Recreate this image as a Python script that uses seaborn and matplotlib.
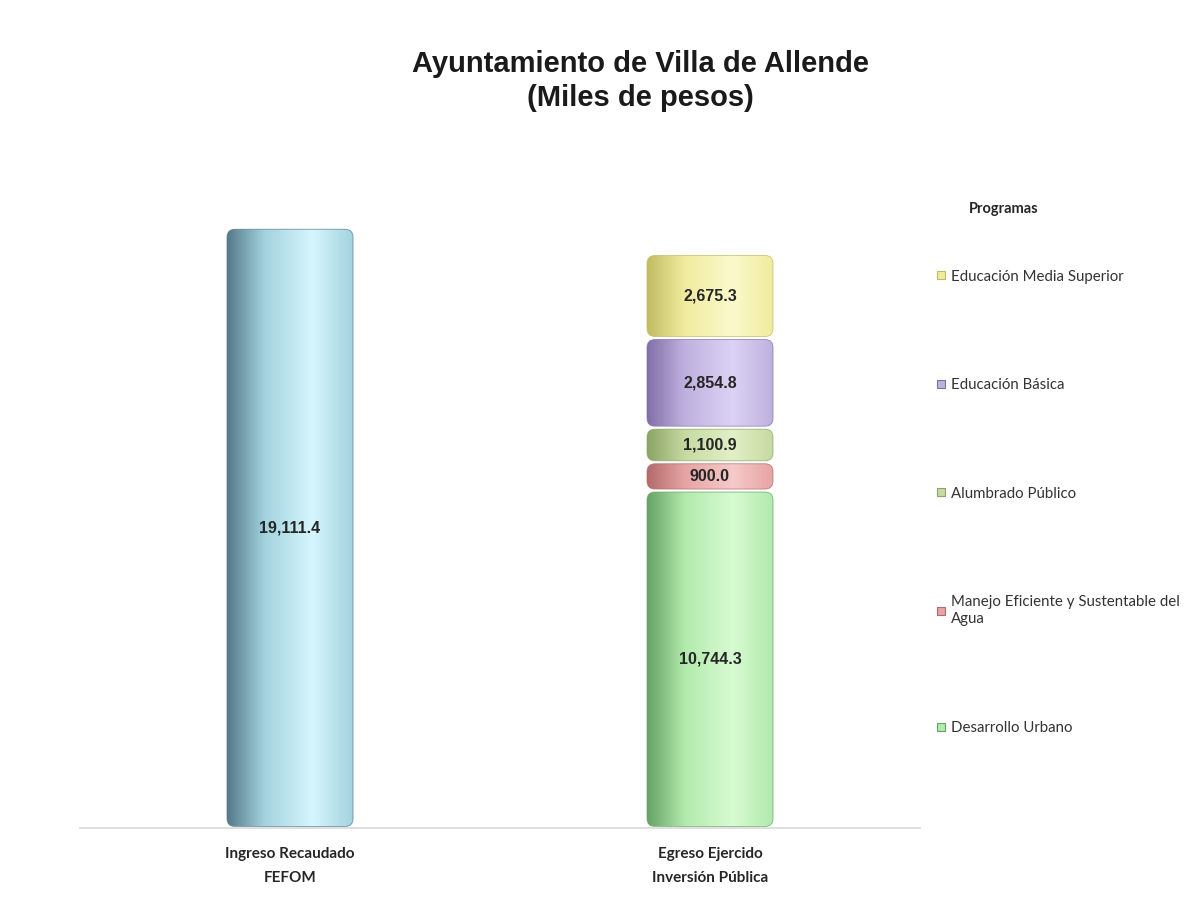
import numpy as np
import pandas as pd
import seaborn as sns
import matplotlib.pyplot as plt
from matplotlib.patches import FancyBboxPatch, Rectangle
from matplotlib.lines import Line2D
from matplotlib.colors import LinearSegmentedColormap

categories = ["Ingreso Recaudado\nFEFOM", "Egreso Ejercido\nInversión Pública"]
ingreso = [19111.4]
programas = ["Desarrollo Urbano", "Manejo Eficiente y Sustentable del\nAgua",
             "Alumbrado Público", "Educación Básica", "Educación Media Superior"]
egreso = [10744.3, 900.0, 1100.9, 2854.8, 2675.3]

# (dark edge, mid, highlight) for the cylinder shading
ingreso_color = ("#55798a", "#a3d3df", "#d6f6fd")
programa_colors = [
    ("#66a266", "#b2eaac", "#d8fbd2"),
    ("#b46a6a", "#e6a4a4", "#f6caca"),
    ("#8ba464", "#c6daa2", "#e2f0c6"),
    ("#8070a8", "#bfb1df", "#dcd2f4"),
    ("#c1bc62", "#f0ec9e", "#fbf9cc"),
]

sns.set_theme(style="white")
fig = plt.figure(figsize=(11.99, 9.10), dpi=100)
ax = fig.add_axes([80 / 1199, 82 / 910, 840 / 1199, 669 / 910])

sns.barplot(x=[categories[0]], y=ingreso, order=categories, width=0.3,
            color=ingreso_color[1], ax=ax)
bottom = 0
for v, c in zip(egreso, programa_colors):
    ax.bar(1, v, bottom=bottom, width=0.3, color=c[1])
    bottom += v

ax.set_xlim(-0.5, 1.5)
ax.set_ylim(0, 21300)

# pixel scales to keep rounded corners round
x_px = 840 / 2.0
y_px = 669 / 21300.0
asp = x_px / y_px
r = 8 / x_px
gap = 1.5 / y_px

rects = [p for p in ax.patches if isinstance(p, Rectangle)]
colors = [ingreso_color] + programa_colors
values = ingreso + egreso
grad = np.linspace(0, 1, 256)[None, :]
for p, col, val in zip(rects, colors, values):
    x0, y0, w, h = p.get_x(), p.get_y(), p.get_width(), p.get_height()
    p.set_visible(False)
    box = FancyBboxPatch((x0, y0 + gap), w, h - 2 * gap,
                         boxstyle=f"round,pad=0,rounding_size={r}",
                         mutation_aspect=asp, facecolor="none",
                         edgecolor=col[0], linewidth=0.6, alpha=0.8, zorder=3)
    ax.add_patch(box)
    cmap = LinearSegmentedColormap.from_list(
        "cyl", [(0, col[0]), (0.3, col[1]), (0.68, col[2]), (1, col[1])])
    im = ax.imshow(grad, cmap=cmap, extent=(x0, x0 + w, y0 + gap, y0 + h - gap),
                   aspect="auto", origin="lower", zorder=2, interpolation="bicubic")
    im.set_clip_path(box)
    ax.text(x0 + w / 2, y0 + h / 2, f"{val:,.1f}", ha="center", va="center",
            fontsize=11.5, fontweight="bold", color="#262626", zorder=4,
            family="Liberation Sans")

ax.set_xlim(-0.5, 1.5)
ax.set_ylim(0, 21300)
ax.set_yticks([])
ax.set_xlabel("")
ax.set_ylabel("")
for s in ["top", "left", "right"]:
    ax.spines[s].set_visible(False)
ax.spines["bottom"].set_color("#d9d9d9")
ax.spines["bottom"].set_linewidth(1.2)
ax.tick_params(axis="x", length=0, pad=14)
ax.set_xticks([0, 1])
ax.set_xticklabels(categories, fontsize=11, fontweight="bold", family="Lato",
                   color="#262626", linespacing=1.9)

fig.text(640 / 1199, 1 - 81 / 910, "Ayuntamiento de Villa de Allende\n(Miles de pesos)",
         ha="center", va="center", fontsize=21, fontweight="bold",
         family="Liberation Sans", linespacing=1.3, color="#1a1a1a")

fig.text(1004 / 1199, 1 - 209 / 910, "Programas", ha="center", va="center",
         fontsize=10.5, fontweight="bold", family="Lato", color="#262626")

handles = [Line2D([], [], linestyle="none", marker="s", markersize=6,
                  markerfacecolor=c[1], markeredgecolor=c[0], markeredgewidth=0.8)
           for c in programa_colors][::-1]
leg = fig.legend(handles, programas[::-1], loc="upper left",
                 bbox_to_anchor=(928 / 1199, 1 - 262 / 910), frameon=False,
                 prop={"family": "Lato", "size": 10.8}, labelspacing=6.3,
                 handlelength=0.7, handletextpad=0.35, borderpad=0)
for t in leg.get_texts():
    t.set_color("#333333")
    t.set_linespacing(1.3)

fig.savefig("out.png", dpi=100, facecolor="white")
